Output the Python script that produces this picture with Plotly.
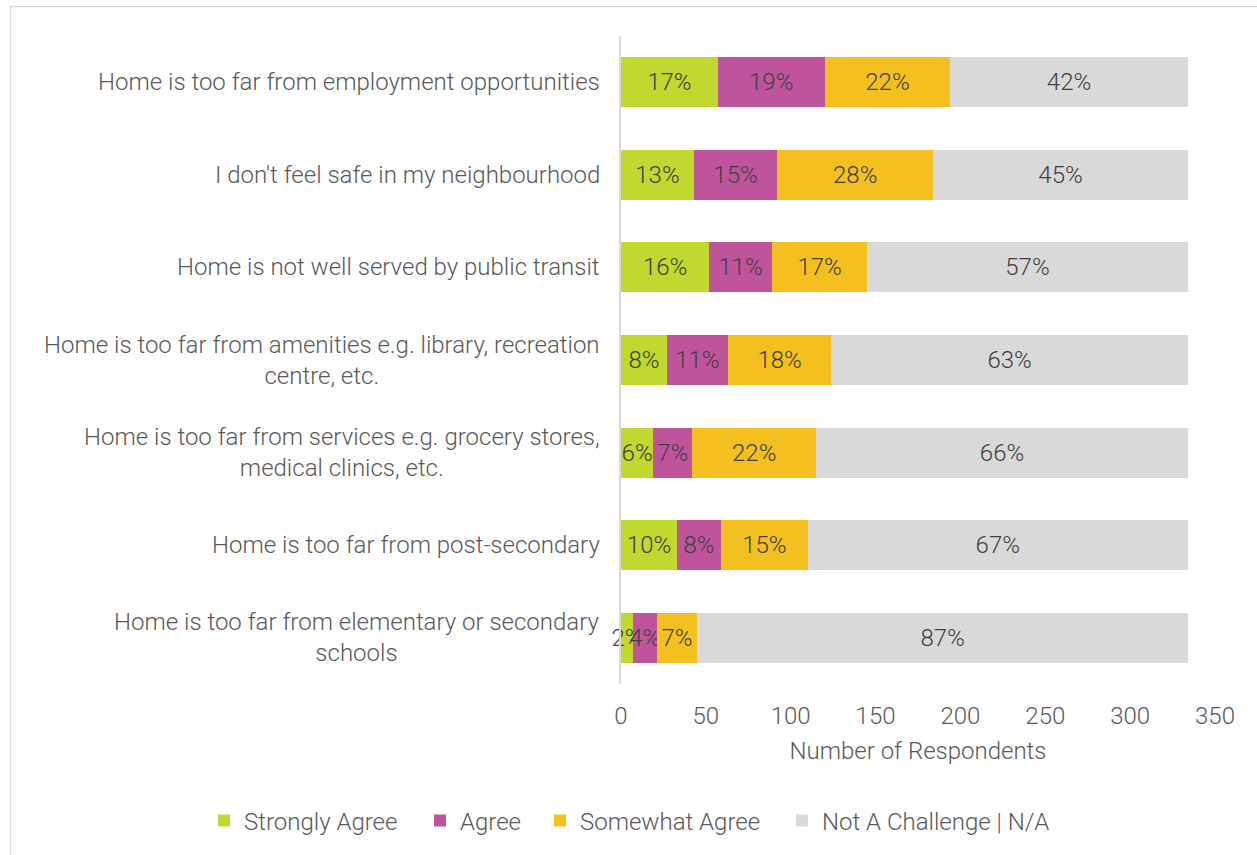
import plotly.graph_objects as go

# Survey statements (top to bottom)
statements = [
    "Home is too far from employment opportunities",
    "I don't feel safe in my neighbourhood",
    "Home is not well served by public transit",
    "Home is too far from amenities e.g. library, recreation<br>centre, etc.",
    "Home is too far from services e.g. grocery stores,<br>medical clinics, etc.",
    "Home is too far from post-secondary",
    "Home is too far from elementary or secondary<br>schools",
]

# Number of respondents per response level
strongly_agree = [57, 43, 52, 27, 19, 33, 7]
agree = [63, 49, 37, 36, 23, 26, 14]
somewhat_agree = [74, 92, 56, 61, 73, 51, 24]
not_a_challenge = [140, 150, 189, 210, 219, 224, 289]

series_names = ["Strongly Agree", "Agree", "Somewhat Agree", "Not A Challenge | N/A"]
series_values = [strongly_agree, agree, somewhat_agree, not_a_challenge]
series_colors = ["#C1D82F", "#C0549C", "#F3C020", "#D9D9D9"]

x_ticks = [0, 50, 100, 150, 200, 250, 300, 350]

FONT = "Roboto"
SIZE = 24
TEXT_DARK = "#404040"
TEXT_MID = "#595959"

# Plot area geometry in pixels
W, H = 1257, 855
PLOT_L, PLOT_R, PLOT_T, PLOT_B = 621, 1215, 36, 684
PW, PH = PLOT_R - PLOT_L, PLOT_B - PLOT_T

# Horizontal pixel position of each legend entry
legend_px = [204, 420, 540, 782]
legend_row_px = 821


def font(color=TEXT_MID, size=SIZE):
    return dict(family=FONT, size=size, color=color, weight=300)


totals = [sum(v) for v in zip(*series_values)]
keys = [f"s{i}" for i in range(len(statements))]

fig = go.Figure()
legend_ids = ["legend", "legend2", "legend3", "legend4"]
for name, vals, color, lid in zip(series_names, series_values, series_colors, legend_ids):
    pct = [f"{round(v / t * 100)}%" for v, t in zip(vals, totals)]
    fig.add_trace(go.Bar(
        name=name,
        y=keys,
        x=vals,
        orientation="h",
        marker=dict(color=color, line=dict(width=0)),
        text=pct,
        textposition="inside",
        insidetextanchor="middle",
        textangle=0,
        textfont=font(TEXT_DARK),
        cliponaxis=False,
        hoverinfo="skip",
        legend=lid,
    ))

# Category labels as centred multi-line text right-aligned to the axis
for key, label in zip(keys, statements):
    fig.add_annotation(
        x=0, xref="paper", y=key, yref="y",
        text=label, showarrow=False,
        xanchor="right", yanchor="middle", align="center",
        xshift=-19,
        font=font(),
    )

# Outer chart frame
fig.add_shape(
    type="rect", xref="paper", yref="paper",
    x0=(10.5 - PLOT_L) / PW, x1=(1262 - PLOT_L) / PW,
    y0=(PLOT_B - 862) / PH, y1=(PLOT_B - 6.5) / PH,
    line=dict(color="#D9D9D9", width=1.5), fillcolor="rgba(0,0,0,0)",
    layer="below",
)

legend_layouts = {
    lid: dict(
        orientation="h", x=(px - PLOT_L) / PW, xanchor="left",
        y=(PLOT_B - legend_row_px) / PH, yanchor="middle",
        font=font(), itemwidth=30, bgcolor="rgba(0,0,0,0)",
    )
    for lid, px in zip(legend_ids, legend_px)
}

fig.update_layout(
    width=W, height=H,
    margin=dict(l=PLOT_L, r=W - PLOT_R, t=PLOT_T, b=H - PLOT_B),
    paper_bgcolor="white", plot_bgcolor="white",
    barmode="stack", bargap=0.46,
    uniformtext=dict(minsize=SIZE, mode="show"),
    font=dict(family=FONT, color=TEXT_MID),
    showlegend=True,
    xaxis=dict(
        range=[0, 350], tickvals=x_ticks, ticktext=[str(t) for t in x_ticks],
        showgrid=False, zeroline=False, showline=False,
        ticks="", ticklabelstandoff=15,
        tickfont=font(),
        title=dict(text="Number of Respondents", standoff=13, font=font()),
        fixedrange=True,
    ),
    yaxis=dict(
        categoryorder="array", categoryarray=keys, autorange="reversed",
        showticklabels=False, showgrid=False, zeroline=False,
        showline=True, linecolor="#D9D9D9", linewidth=2,
        ticks="", fixedrange=True,
    ),
    **legend_layouts,
)

fig.write_html("out.html")
